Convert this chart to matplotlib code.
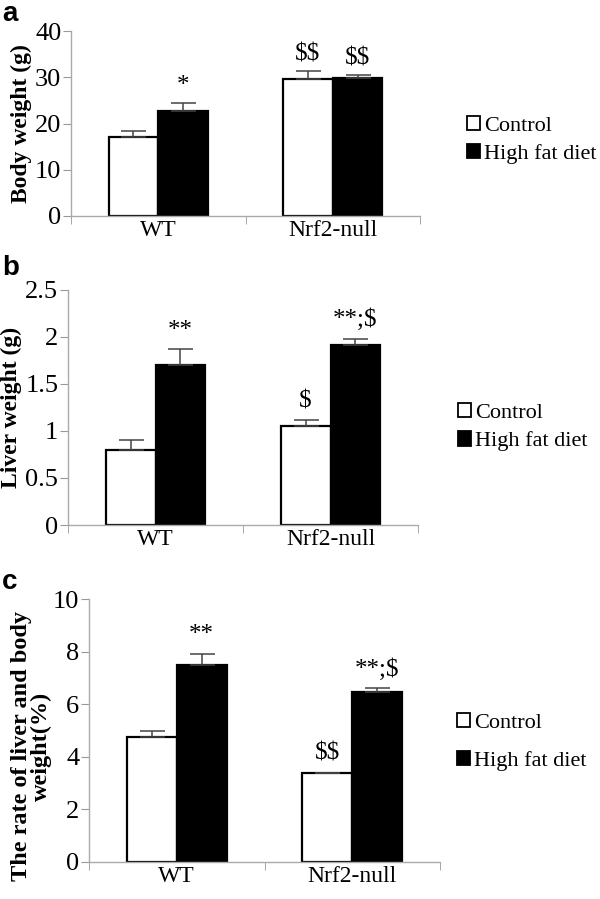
import matplotlib
matplotlib.use("Agg")
import matplotlib.pyplot as plt
from matplotlib.patches import Patch

plt.rcParams['font.family'] = ['Liberation Serif', 'DejaVu Serif']

groups = ['WT', 'Nrf2-null']
series = ['Control', 'High fat diet']

# panel a: body weight
body_ctrl = [17.0, 29.6]
body_ctrl_err = [1.4, 1.8]
body_hfd = [22.7, 29.9]
body_hfd_err = [1.8, 0.6]
body_marks_ctrl = ['', '$$']
body_marks_hfd = ['*', '$$']

# panel b: liver weight
liver_ctrl = [0.80, 1.05]
liver_ctrl_err = [0.10, 0.07]
liver_hfd = [1.70, 1.92]
liver_hfd_err = [0.17, 0.06]
liver_marks_ctrl = ['', '$']
liver_marks_hfd = ['**', '**;$']

# panel c: liver / body weight ratio
ratio_ctrl = [4.75, 3.40]
ratio_ctrl_err = [0.25, 0.0]
ratio_hfd = [7.50, 6.45]
ratio_hfd_err = [0.40, 0.15]
ratio_marks_ctrl = ['', '$$']
ratio_marks_hfd = ['**', '**;$']

W, H = 600, 899
fig = plt.figure(figsize=(6, 8.99), dpi=100)


def px_axes(left, right, top, bottom):
    return fig.add_axes([left / W, 1 - bottom / H, (right - left) / W, (bottom - top) / H])


def panel(ax, ctrl, ctrl_err, hfd, hfd_err, mk_ctrl, mk_hfd, ymax, step, ylabel,
          mark_gap, ylabel_size=17):
    bw = 0.285
    x = list(range(len(groups)))
    xc = [i - bw / 2 for i in x]
    xh = [i + bw / 2 for i in x]
    ax.bar(xc, ctrl, bw, color='white', edgecolor='black', linewidth=1.6, zorder=2)
    ax.bar(xh, hfd, bw, color='black', edgecolor='black', linewidth=1.6, zorder=2)
    ax.errorbar(xc, ctrl, yerr=[[0] * len(ctrl), ctrl_err], fmt='none',
                ecolor='#444444', elinewidth=1.1, capsize=9, capthick=1.1, zorder=3)
    ax.errorbar(xh, hfd, yerr=[[0] * len(hfd), hfd_err], fmt='none',
                ecolor='#444444', elinewidth=1.1, capsize=9, capthick=1.1, zorder=3)
    for i in x:
        if mk_ctrl[i]:
            ax.text(xc[i], ctrl[i] + ctrl_err[i] + mark_gap, mk_ctrl[i].replace('$', r'\$'),
                    ha='center', va='bottom', fontsize=18)
        if mk_hfd[i]:
            ax.text(xh[i], hfd[i] + hfd_err[i] + mark_gap, mk_hfd[i].replace('$', r'\$'),
                    ha='center', va='bottom', fontsize=18)
    ax.set_xlim(-0.5, len(groups) - 0.5)
    ax.set_ylim(0, ymax)
    ax.set_yticks([step * k for k in range(int(round(ymax / step)) + 1)])
    ax.set_yticklabels(['%g' % (step * k) for k in range(int(round(ymax / step)) + 1)])
    ax.set_xticks(x)
    ax.set_xticklabels(groups)
    ax.set_xticks([i - 0.5 for i in range(len(groups) + 1)], minor=True)
    ax.tick_params(axis='x', which='major', length=0, labelsize=17, pad=3)
    ax.tick_params(axis='x', which='minor', length=6, color='#999999', direction='out')
    ax.tick_params(axis='y', length=6, color='#999999', labelsize=19, pad=1)
    for s in ['top', 'right']:
        ax.spines[s].set_visible(False)
    for s in ['left', 'bottom']:
        ax.spines[s].set_color('#aaaaaa')
        ax.spines[s].set_linewidth(1)
    ax.set_ylabel(ylabel, fontsize=ylabel_size, fontweight='bold', linespacing=0.95,
                  labelpad=2)


ax_a = px_axes(71, 420, 31, 216)
panel(ax_a, body_ctrl, body_ctrl_err, body_hfd, body_hfd_err, body_marks_ctrl,
      body_marks_hfd, 40, 10, 'Body weight (g)', 1.2)

ax_b = px_axes(68, 418, 290, 525)
panel(ax_b, liver_ctrl, liver_ctrl_err, liver_hfd, liver_hfd_err, liver_marks_ctrl,
      liver_marks_hfd, 2.5, 0.5, 'Liver weight (g)', 0.08)

ax_c = px_axes(89, 440, 599, 862)
panel(ax_c, ratio_ctrl, ratio_ctrl_err, ratio_hfd, ratio_hfd_err, ratio_marks_ctrl,
      ratio_marks_hfd, 10, 2, 'The rate of liver and body\nweight(%)', 0.3, ylabel_size=17.5)
ax_c.yaxis.set_label_coords(-37 / 351, 0.44)

handles = [Patch(facecolor='white', edgecolor='black', linewidth=1.3),
           Patch(facecolor='black', edgecolor='black', linewidth=1.3)]
for (lx, ly, sp) in [(467, 140, 0.35), (458, 427, 0.4), (457, 742, 0.8)]:
    fig.legend(handles, series, loc='center left', bbox_to_anchor=(lx / W, 1 - ly / H),
               frameon=False, fontsize=16, handlelength=0.6, handleheight=0.6,
               handletextpad=0.15, labelspacing=sp, borderpad=0, borderaxespad=0)

for letter, (lx, ly) in zip('abc', [(2, 14), (2, 268), (2, 582)]):
    fig.text(lx / W, 1 - ly / H, letter, fontsize=20, fontweight='bold',
             family=['Liberation Sans', 'DejaVu Sans'], ha='left', va='center')

fig.savefig('out.png', dpi=100)
